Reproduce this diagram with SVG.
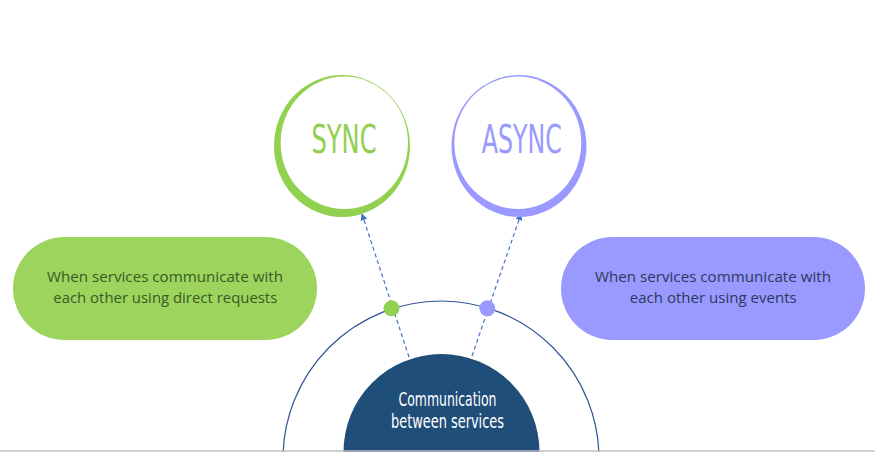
<svg xmlns="http://www.w3.org/2000/svg" width="875" height="452" viewBox="0 0 875 452">
<style>
.cond{font-family:"Liberation Sans Narrow","DejaVu Sans Condensed","DejaVu Sans",sans-serif;font-stretch:condensed;}
.body{font-family:"Open Sans","Noto Sans","Liberation Sans",sans-serif;font-size:14px;}
.dash{stroke:#4472C4;stroke-width:1.2;stroke-dasharray:4 3;fill:none;}
</style>
<defs>
<marker id="arr" viewBox="0 0 10 10" refX="9" refY="5" markerWidth="7" markerHeight="7" markerUnits="userSpaceOnUse" orient="auto">
<path d="M0,0 L10,5 L0,10 z" fill="#4472C4"/>
</marker>
</defs>
<rect width="875" height="452" fill="#FFFFFF"/>
<g id="outer-arc">
<circle cx="441" cy="459" r="158" fill="none" stroke="#2F5597" stroke-width="1.2"/>
</g>
<g id="connectors">
<line class="dash" x1="409" y1="357" x2="362" y2="214" marker-end="url(#arr)"/>
<line class="dash" x1="472" y1="356" x2="521" y2="214" marker-end="url(#arr)"/>
</g>
<g id="center-node">
<circle cx="441.5" cy="452" r="98" fill="#1F4E79"/>
<text class="cond" x="447.5" y="405.5" font-size="20" fill="#FFFFFF" text-anchor="middle" textLength="98" lengthAdjust="spacingAndGlyphs">Communication</text>
<text class="cond" x="447.5" y="428.3" font-size="20" fill="#FFFFFF" text-anchor="middle" textLength="113" lengthAdjust="spacingAndGlyphs">between services</text>
</g>
<g id="dot-sync"><circle cx="391.5" cy="308.3" r="8" fill="#92D050"/></g>
<g id="dot-async"><circle cx="487.3" cy="308.3" r="8" fill="#9999FF"/></g>
<g id="sync">
<ellipse cx="342" cy="146" rx="68" ry="71" fill="#92D050"/>
<ellipse cx="344.3" cy="142.8" rx="63.7" ry="66.2" fill="#FFFFFF"/>
<text class="cond" x="344" y="153.3" font-size="39" fill="#92D050" text-anchor="middle" textLength="65" lengthAdjust="spacingAndGlyphs">SYNC</text>
</g>
<g id="async">
<ellipse cx="519" cy="146" rx="67.5" ry="71" fill="#9999FF"/>
<ellipse cx="517.8" cy="142.8" rx="63.5" ry="66.2" fill="#FFFFFF"/>
<text class="cond" x="521.7" y="153.3" font-size="39" fill="#9999FF" text-anchor="middle" textLength="80" lengthAdjust="spacingAndGlyphs">ASYNC</text>
</g>
<g id="sync-desc">
<rect x="13" y="237" width="304" height="103" rx="51.5" fill="#9CD45E"/>
<text class="body" x="165" y="281.7" fill="#3A5A24" text-anchor="middle" textLength="236" lengthAdjust="spacingAndGlyphs">When services communicate with</text>
<text class="body" x="165.3" y="302.7" fill="#3A5A24" text-anchor="middle" textLength="224" lengthAdjust="spacingAndGlyphs">each other using direct requests</text>
</g>
<g id="async-desc">
<rect x="561" y="237" width="304" height="103" rx="51.5" fill="#9999FF"/>
<text class="body" x="713" y="281.7" fill="#2B3A5C" text-anchor="middle" textLength="236" lengthAdjust="spacingAndGlyphs">When services communicate with</text>
<text class="body" x="713.3" y="302.7" fill="#2B3A5C" text-anchor="middle" textLength="167" lengthAdjust="spacingAndGlyphs">each other using events</text>
</g>
<g id="baseline">
<line x1="0" y1="451" x2="875" y2="451" stroke="#BFBFBF" stroke-width="1.6"/>
</g>
</svg>
